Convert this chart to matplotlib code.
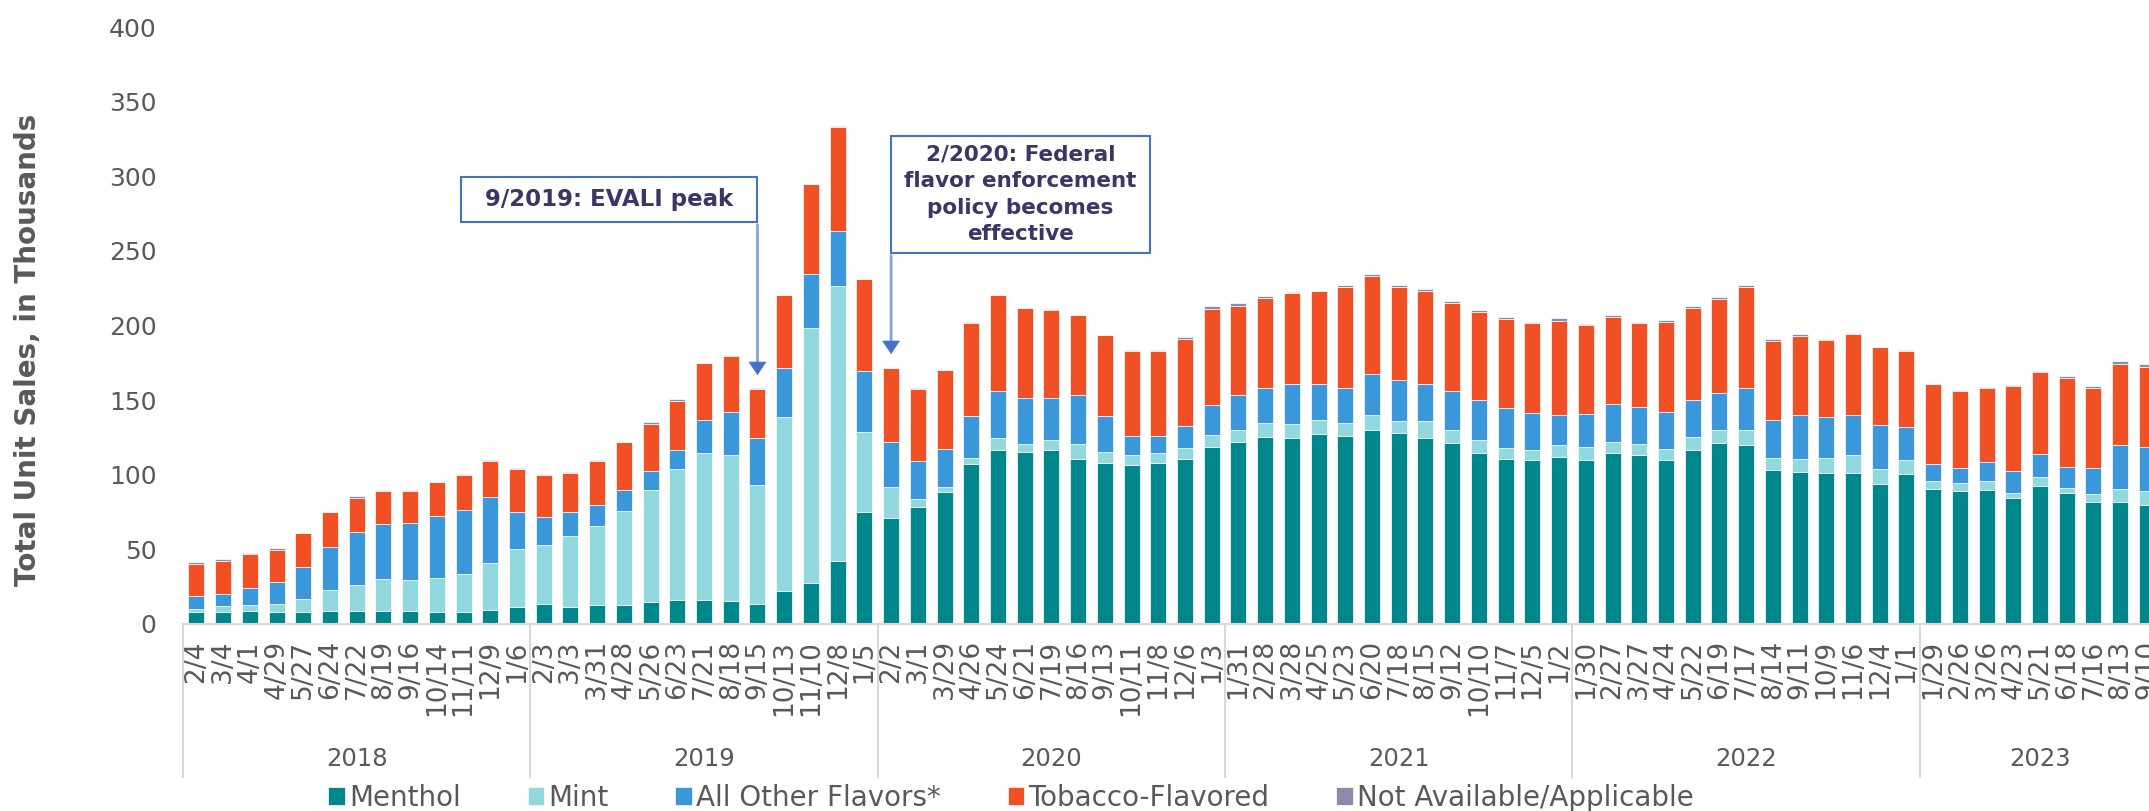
import matplotlib
matplotlib.use("Agg")
import matplotlib.pyplot as plt
from matplotlib.patches import Rectangle
import numpy as np

# 4-week periods, grouped by year
dates = ["2/4", "3/4", "4/1", "4/29", "5/27", "6/24", "7/22", "8/19", "9/16", "10/14", "11/11", "12/9", "1/6",
         "2/3", "3/3", "3/31", "4/28", "5/26", "6/23", "7/21", "8/18", "9/15", "10/13", "11/10", "12/8", "1/5",
         "2/2", "3/1", "3/29", "4/26", "5/24", "6/21", "7/19", "8/16", "9/13", "10/11", "11/8", "12/6", "1/3",
         "1/31", "2/28", "3/28", "4/25", "5/23", "6/20", "7/18", "8/15", "9/12", "10/10", "11/7", "12/5", "1/2",
         "1/30", "2/27", "3/27", "4/24", "5/22", "6/19", "7/17", "8/14", "9/11", "10/9", "11/6", "12/4", "1/1",
         "1/29", "2/26", "3/26", "4/23", "5/21", "6/18", "7/16", "8/13", "9/10"]
years = ["2018", "2019", "2020", "2021", "2022", "2023"]
year_sizes = [13, 13, 13, 13, 13, 9]

menthol = [7.7, 8.0, 8.4, 7.7, 8.0, 8.4, 8.4, 8.4, 8.4, 8.0, 7.7, 9.4, 11.2,
           13.3, 11.2, 12.2, 12.6, 14.7, 16.1, 16.1, 15.4, 12.9, 21.7, 27.2, 41.9, 74.8,
           70.9, 77.9, 88.0, 107.2, 116.7, 114.9, 116.7, 110.7, 107.6, 106.6, 107.9, 110.7, 118.8,
           121.9, 125.4, 124.7, 127.2, 126.1, 130.0, 127.9, 124.7, 120.9, 114.6, 110.4, 109.7, 112.1,
           110.0, 114.2, 112.8, 109.7, 116.3, 120.9, 119.8, 103.1, 102.0, 101.3, 101.3, 93.6, 100.3,
           90.5, 88.7, 89.4, 84.2, 92.6, 87.3, 81.4, 81.7, 79.7]
mint = [2.1, 3.5, 4.2, 5.2, 8.4, 14.0, 17.8, 21.3, 20.6, 22.7, 25.8, 31.1, 38.8,
        39.1, 47.5, 53.1, 62.9, 74.7, 87.7, 98.1, 97.4, 80.0, 117.0, 170.9, 184.5, 53.8,
        21.0, 5.6, 3.5, 3.9, 8.0, 5.6, 6.6, 9.8, 7.7, 6.2, 6.7, 7.4, 7.7,
        7.7, 9.4, 9.4, 9.7, 8.7, 9.7, 8.3, 11.5, 9.1, 8.7, 7.3, 7.0, 7.7,
        8.4, 7.4, 7.7, 7.7, 9.1, 8.7, 10.2, 8.3, 8.7, 9.8, 11.5, 9.8, 9.4,
        5.2, 5.3, 6.0, 3.5, 5.9, 3.9, 5.6, 8.4, 9.0]
other = [8.7, 8.4, 11.5, 15.0, 21.7, 29.0, 35.3, 37.0, 38.4, 41.6, 42.7, 44.4, 25.1,
         18.9, 16.1, 14.0, 14.3, 13.3, 12.9, 22.4, 29.4, 31.8, 32.8, 36.7, 37.0, 41.2,
         30.0, 25.5, 25.9, 28.3, 31.1, 30.8, 28.3, 32.9, 24.1, 13.3, 11.5, 14.7, 19.9,
         23.8, 23.1, 26.6, 23.8, 23.5, 27.6, 27.3, 24.5, 25.8, 26.9, 26.9, 24.4, 20.3,
         22.0, 25.5, 24.5, 24.4, 24.5, 25.2, 27.9, 25.2, 29.0, 27.2, 27.3, 30.0, 22.0,
         11.5, 10.5, 12.9, 14.7, 15.0, 14.0, 17.5, 29.4, 30.1]
tobacco = [21.3, 22.0, 22.7, 21.7, 22.7, 23.4, 23.0, 22.4, 21.7, 22.4, 23.7, 24.4, 28.7,
           28.6, 26.5, 30.0, 31.8, 31.4, 32.5, 38.1, 37.4, 32.9, 48.9, 60.0, 69.9, 61.1,
           49.3, 48.6, 52.7, 62.5, 64.6, 60.4, 59.1, 53.4, 54.1, 57.0, 57.0, 58.3, 65.0,
           60.0, 60.4, 60.8, 62.2, 67.4, 66.1, 62.2, 62.5, 59.4, 59.1, 59.8, 60.5, 63.2,
           59.8, 58.3, 56.9, 60.8, 61.8, 62.8, 67.8, 53.1, 53.1, 52.1, 54.5, 52.1, 51.4,
           53.5, 51.7, 50.0, 57.3, 55.6, 59.3, 53.4, 54.8, 53.4]
not_avail = [1.4, 1.4, 0.3, 1.1, 0.3, 0.3, 1.4, 0.3, 0.3, 0.3, 0.3, 0.3, 0.3,
             0.3, 0.3, 0.3, 0.3, 1.4, 1.4, 0.3, 0.3, 0.3, 0.3, 0.3, 0.3, 0.3,
             0.3, 0.3, 0.3, 0.3, 0.3, 0.3, 0.3, 0.3, 0.3, 0.3, 0.3, 1.4, 1.4,
             1.8, 1.4, 1.0, 0.3, 1.4, 1.4, 1.4, 1.4, 1.0, 1.4, 1.4, 1.0, 1.4,
             1.0, 1.4, 0.7, 1.4, 1.1, 1.4, 1.4, 1.4, 1.8, 0.3, 0.3, 0.3, 0.3,
             0.3, 0.3, 0.3, 0.3, 0.3, 1.8, 1.4, 1.8, 1.8]

series = [("Menthol", menthol, "#00878C"),
          ("Mint", mint, "#92D9DF"),
          ("All Other Flavors*", other, "#3A98DA"),
          ("Tobacco-Flavored", tobacco, "#F05023"),
          ("Not Available/Applicable", not_avail, "#8E8AAC")]

W, H = 2149, 811
gray = "#595959"
fig = plt.figure(figsize=(W / 100, H / 100), dpi=100)
ax = fig.add_axes([183 / W, 1 - 623.6 / H, (W - 183) / W, 596.2 / H])

x = np.arange(len(dates))
bottom = np.zeros(len(dates))
for name, vals, col in series:
    ax.bar(x, vals, 0.6, bottom=bottom, color=col, edgecolor="white", linewidth=0.5, label=name)
    bottom += np.array(vals)

ax.set_xlim(-0.5, -0.5 + (W - 183) / 26.72)
ax.set_ylim(0, 400)
ax.set_yticks(range(0, 401, 50))
ax.tick_params(axis="y", length=0, pad=19, labelsize=18, colors=gray)
ax.set_xticks(x)
ax.set_xticklabels(dates, rotation=90, fontsize=19, color=gray)
ax.tick_params(axis="x", length=0, pad=12)
for s in ["top", "right", "left"]:
    ax.spines[s].set_visible(False)
ax.spines["bottom"].set_color("#D9D9D9")
ax.spines["bottom"].set_linewidth(1.5)

# year groups under the date labels
tr = ax.get_xaxis_transform()
start = -0.5
for yr, n in zip(years, year_sizes):
    ax.plot([start, start], [0, -0.258], transform=tr, color="#D9D9D9", lw=1.5, clip_on=False)
    ax.text(start + n / 2, -0.2265, yr, transform=tr, ha="center", va="center", fontsize=17.5, color=gray)
    start += n

fig.text(28 / W, 1 - 350 / H, "Total Unit Sales, in Thousands", rotation=90, ha="center", va="center",
         fontsize=20, fontweight="bold", color=gray)

# annotation boxes with arrows
navy = "#3C3567"
box_blue = "#4472C4"


def note(x0, x1, y0, y1, text, size, arrow_x, tip):
    ax.add_patch(Rectangle((x0, y0), x1 - x0, y1 - y0, facecolor="white", edgecolor=box_blue,
                           linewidth=1.5, zorder=5))
    ax.text((x0 + x1) / 2, (y0 + y1) / 2, text, ha="center", va="center", fontsize=size,
            fontweight="bold", color=navy, zorder=6, linespacing=1.4)
    ax.annotate("", xy=(arrow_x, tip + 7), xytext=(arrow_x, y0),
                arrowprops=dict(arrowstyle="-", color="#86A2DC", lw=2))
    ax.annotate("", xy=(arrow_x, tip), xytext=(arrow_x, tip + 8),
                arrowprops=dict(arrowstyle="-|>,head_length=0.45,head_width=0.3", mutation_scale=20,
                                color=box_blue, lw=0.5))


note(9.9, 21, 269.4, 299.6, "9/2019: EVALI peak", 16.5, 21, 164.8)
note(26, 35.7, 248.6, 327.1, "2/2020: Federal\nflavor enforcement\npolicy becomes\neffective", 15.5, 26, 178.9)

fig.legend(loc="center", bbox_to_anchor=(1011 / W, 1 - 798 / H), ncol=5, frameon=False, fontsize=20,
           handlelength=0.6, handleheight=0.6, handletextpad=0.15, columnspacing=2.4, labelcolor=gray)

fig.savefig("out.png", dpi=100)
